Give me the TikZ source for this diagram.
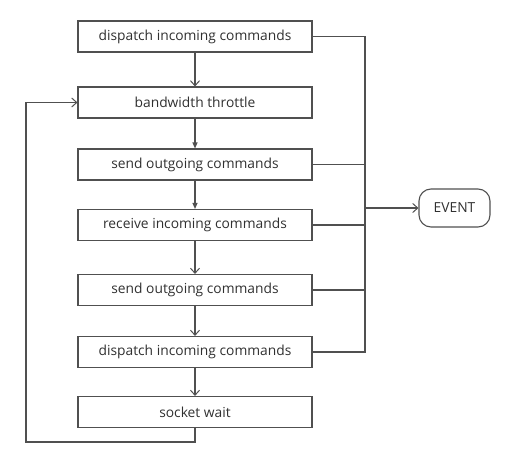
\documentclass[tikz,border=0pt]{standalone}
\usepackage{fontspec}
\setmainfont{Open Sans}
\usetikzlibrary{arrows.meta}
\definecolor{ln}{HTML}{505050}
\definecolor{tx}{HTML}{303030}
\tikzset{
  stepbox/.style={draw=ln, line width=1.1pt, minimum width=234pt, minimum height=31pt, inner sep=0pt, text=tx, font=\fontsize{13.8}{16}\selectfont},
  evbox/.style={draw=ln, line width=1.1pt, rounded corners=12pt, minimum width=71pt, minimum height=38pt, inner sep=0pt, text=tx, font=\fontsize{13.8}{16}\selectfont},
  conn/.style={draw=ln, line width=1.1pt},
  openarr/.style={conn, -{Straight Barb[length=5pt,width=9pt,line width=1pt]}},
  fillarr/.style={conn, -{Triangle[length=6pt,width=5pt]}},
}
\begin{document}
\begin{tikzpicture}[x=1pt,y=-1pt]
\useasboundingbox (0,0) rectangle (509,455);
\node[stepbox] (b1) at (195,36.5) {dispatch incoming commands};
\node[stepbox] (b2) at (195,102.5) {bandwidth throttle};
\node[stepbox] (b3) at (195,164.5) {send outgoing commands};
\node[stepbox] (b4) at (195,225) {receive incoming commands};
\node[stepbox] (b5) at (195,290) {send outgoing commands};
\node[stepbox] (b6) at (195,352) {dispatch incoming commands};
\node[stepbox] (b7) at (195,412) {socket wait};
\node[evbox] (ev) at (454.5,208) {EVENT};
\coordinate (rt) at (365,36.5);
\coordinate (rb) at (365,352);
\coordinate (rm) at (365,208);
\coordinate (lb) at (26,442);
\coordinate (lt) at (26,102.5);
\draw[openarr] (b1) -- (b2);
\draw[fillarr] (b2) -- (b3);
\draw[fillarr] (b3) -- (b4);
\draw[openarr] (b4) -- (b5);
\draw[openarr] (b5) -- (b6);
\draw[openarr] (b6) -- (b7);
\draw[conn] (b1.east) -- (rt) -- (rb) -- (b6.east);
\draw[conn] (b3.east) -- (b3.east -| rt);
\draw[conn] (b4.east) -- (b4.east -| rt);
\draw[conn] (b5.east) -- (b5.east -| rt);
\draw[openarr, line width=1.6pt] (rm) -- (ev.west);
\draw[openarr] (b7.south) |- (lb) -- (lt) -- (b2.west);
\end{tikzpicture}
\end{document}
